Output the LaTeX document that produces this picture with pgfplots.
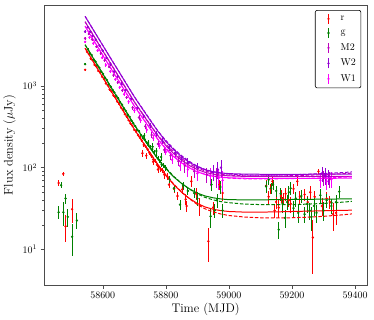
\documentclass[border=0pt]{standalone}
\usepackage{pgfplots}
\pgfplotsset{compat=1.18}
\definecolor{colR}{rgb}{1,0,0}
\definecolor{colG}{rgb}{0,0.5,0}
\definecolor{colM}{rgb}{0.75,0,0.75}
\definecolor{colV}{rgb}{0.58,0,0.83}
\definecolor{colW}{rgb}{1,0,1}
\pgfplotsset{
  pts/.style={only marks, mark=*, mark size=1pt, forget plot,
    error bars/y dir=both, error bars/y explicit, error bars/error mark=none,
    error bars/error bar style={line width=0.8pt}},
  fit/.style={line width=1pt, forget plot},
  fitd/.style={line width=1pt, dashed, dash pattern=on 3.5pt off 1.8pt, forget plot},
}
\begin{document}
\begin{tikzpicture}
\begin{axis}[
  scale only axis,
  width=324pt, height=281pt,
  ymode=log,
  xmin=58414, xmax=59438,
  ymin=3.67, ymax=9730,
  xtick={58600,58800,59000,59200,59400},
  ytick={10,100,1000},
  scaled x ticks=false,
  xticklabel style={/pgf/number format/1000 sep={}},
  xlabel={Time (MJD)},
  ylabel={Flux density ($\mu$Jy)},
  label style={font=\fontsize{12.5}{14}\selectfont},
  xlabel style={yshift=2pt},
  tick align=outside,
  xtick pos=bottom, ytick pos=left,
  major tick length=3.5pt, minor tick length=2pt,
  axis line style={black!70},
  every tick/.style={black!70},
  legend cell align=left,
  legend style={at={(rel axis cs:0.982,0.982)}, anchor=north east,
    draw=black, rounded corners=2pt, line width=0.6pt, font=\normalsize,
    row sep=3.2pt, inner xsep=3pt, inner ysep=3pt},
  legend image code/.code={
    \path[draw=none] (0cm,0cm) -- (0.72cm,0cm);
    \draw[draw=#1, solid, line width=0.8pt] (0.36cm,-0.18cm) -- (0.36cm,0.18cm);
    \fill[fill=#1, draw=none] (0.36cm,0cm) circle (1.3pt);},
]
% ---------- data: r ----------
\addplot[pts, colR, mark options={fill=colR}] table[x index=0, y index=1, y error index=2] {
58460 65 6
58475 84 5
58482 19.2 7
58503 31 10
58544 1570 50
58550 2600 70
58556 2450 65
58562 2150 60
58568 2060 55
58574 1800 50
58580 1720 45
58586 1520 40
58592 1450 40
58598 1290 35
58604 1210 35
58610 1070 30
58616 1020 30
58622 900 25
58628 850 25
58634 760 22
58640 720 20
58646 640 20
58652 600 18
58658 540 16
58664 505 15
58670 450 14
58676 420 13
58682 380 12
58688 345 12
58694 325 11
58700 290 10
58706 275 10
58712 250 10
58718 232 9
58724 215 9
58730 190 9
58736 183 8
58742 168 8
58748 152 8
58754 140 8
58760 126 7
58766 120 7
58772 108 7
58778 100 7
58784 95 7
58790 92 7
58726 150 15
58738 140 12
58760 118 10
58775 95 10
58795 82 10
58805 78 8
58810 62 6
58826 55 6
58837 45 5
58852 54 7
58863 41 6
58866 34 5
58881 68 10
58896 48 8
58908 34 8
58935 12.6 5.5
58950 32.5 6
58970 62 8
58980 49 10
59118 60 10
59126 44 8
59132 55 8
59138 68 9
59145 30 6
59150 38 7
59158 32.4 8
59165 45 8
59172 42 7
59180 48 9
59190 40 7
59196 36 8
59205 55 8
59217 68 9
59225 44 8
59240 47 8
59250 38 7
59258 50 9
59266 14 9
59272 44 8
59284 90 6
59295 34 8
59310 42 8
59320 38 7
59330 27 10
59340 28 8
};
% ---------- data: g ----------
\addplot[pts, colG, mark options={fill=colG}] table[x index=0, y index=1, y error index=2] {
58460 28.5 5
58468 61 5
58475 28.5 9
58482 42 6
58489 25 6
58503 14.3 6
58518 22.6 5
58544 1840 50
58553 2800 70
58559 2500 65
58565 2380 60
58571 2100 55
58577 1980 50
58583 1780 45
58589 1670 40
58595 1490 40
58601 1400 35
58607 1250 35
58613 1180 30
58619 1050 30
58625 980 25
58631 890 25
58637 830 22
58643 750 20
58649 700 20
58655 630 18
58661 590 16
58667 530 15
58673 495 14
58679 445 13
58685 418 12
58691 375 12
58697 350 11
58703 322 10
58709 290 10
58715 280 10
58721 250 9
58727 236 9
58733 222 9
58739 205 8
58745 188 8
58751 180 8
58757 168 8
58763 155 7
58769 140 7
58775 130 7
58781 122 7
58787 110 7
58793 106 7
58731 245 20
58744 200 18
58758 180 18
58770 160 15
58785 135 15
58800 100 8
58812 72 7
58826 56 6
58845 35.4 5
58855 60 7
58870 52 6
58890 49 7
58900 42 8
58942 25.4 7
58945 62 10
58955 30 6
58962 40 8
58973 58 10
58980 30 6
59118 59 10
59126 71 10
59134 56 8
59140 62 9
59150 52 8
59158 17.5 4
59164 48 9
59170 36 8
59178 24.4 6
59185 38 8
59190 50 9
59196 56 10
59205 32 7
59212 42 9
59220 28 7
59230 45 8
59240 27 6
59248 36 8
59256 30 7
59262 25 8
59270 34 8
59278 28 7
59290 46 9
59300 30 8
59310 40 8
59325 34 7
59340 38 8
59350 51 8
};
% ---------- data: M2 ----------
\addplot[pts, colM, mark options={fill=colM}] table[x index=0, y index=1, y error index=2] {
58544 3800 120
58556 4300 140
58566 3700 120
58580 3000 100
58594 2500 90
58606 2050 80
58620 1700 70
58634 1350 60
58648 1100 50
58662 880 40
58676 720 35
58695 540 30
58715 410 25
58735 320 22
58755 250 20
58775 195 18
58795 165 16
58815 140 15
58840 120 15
58860 105 18
58890 90 15
58930 82 18
58960 78 22
59300 75 15
59320 72 16
};
% ---------- data: W2 ----------
\addplot[pts, colV, mark options={fill=colV}] table[x index=0, y index=1, y error index=2] {
58544 4600 150
58552 5200 170
58560 4600 150
58568 4100 140
58578 3700 120
58590 3100 110
58600 2700 100
58612 2200 90
58624 1850 80
58636 1500 70
58648 1300 60
58660 1050 50
58672 880 40
58690 700 35
58710 540 30
58730 430 25
58750 330 22
58770 260 20
58790 210 18
58810 175 15
58830 150 15
58850 128 15
58870 115 18
58900 100 15
58950 88 20
58965 95 22
58975 100 25
59295 85 18
59305 80 18
59315 78 16
};
% ---------- data: W1 ----------
\addplot[pts, colW, mark options={fill=colW}] table[x index=0, y index=1, y error index=2] {
58544 3450 110
58558 3900 130
58570 3300 110
58584 2700 100
58598 2200 90
58610 1800 80
58624 1500 70
58640 1200 55
58654 960 45
58668 790 40
58682 640 35
58700 500 30
58720 380 25
58740 290 22
58760 230 20
58780 185 16
58800 155 12
58820 125 14
58845 105 15
58870 95 18
58900 85 16
58940 80 20
58968 75 22
58980 70 20
59290 70 14
59310 68 15
59325 72 16
};
% ---------- fitted curves (solid) ----------
\addplot[fit, colR] coordinates {
(58544,2880) (58575,1830) (58600,1270) (58625,880) (58650,615) (58675,425)
(58700,295) (58725,210) (58750,150) (58775,108) (58800,80) (58825,62)
(58850,50) (58875,42) (58900,36.5) (58925,33) (58950,31) (58975,29.8)
(59000,29.1) (59050,28.6) (59100,28.6) (59150,28.8) (59200,29.1)
(59250,29.4) (59300,29.7) (59350,30.0) (59390,30.2)};
\addplot[fit, colG] coordinates {
(58544,3176) (58575,2022) (58600,1406) (58625,977) (58650,685) (58675,476)
(58700,333) (58725,240) (58750,174) (58775,127) (58800,97) (58825,77)
(58850,64) (58875,55) (58900,48.8) (58925,45) (58950,42.8) (58975,41.4)
(59000,40.6) (59050,40.4) (59100,40.4) (59150,40.6) (59200,40.8)
(59250,41.0) (59300,41.2) (59350,41.4) (59390,41.5)};
\addplot[fit, colM] coordinates {
(58544,6066) (58575,3861) (58600,2685) (58625,1866) (58650,1310) (58675,911)
(58700,638) (58725,459) (58750,333) (58775,245) (58800,186) (58825,148)
(58850,123) (58875,106) (58900,94.8) (58925,87.5) (58950,83.3) (58975,80.7)
(59000,79.3) (59050,78.2) (59100,78) (59150,77.9) (59200,77.9)
(59250,78) (59300,78.1) (59350,78.2) (59390,78.3)};
\addplot[fit, colV] coordinates {
(58544,7070) (58575,4497) (58600,3125) (58625,2169) (58650,1520) (58675,1054)
(58700,736) (58725,528) (58750,381) (58775,278) (58800,209) (58825,165)
(58850,136) (58875,116) (58900,102.6) (58925,94) (58950,89.1) (58975,86.2)
(59000,84.5) (59050,83.3) (59100,83) (59150,82.8) (59200,82.8)
(59250,83) (59300,83.2) (59350,83.4) (59390,83.6)};
\addplot[fit, colW] coordinates {
(58544,5349) (58575,3407) (58600,2371) (58625,1649) (58650,1159) (58675,808)
(58700,567) (58725,410) (58750,299) (58775,221) (58800,169) (58825,136)
(58850,114) (58875,99) (58900,88.8) (58925,82.3) (58950,78.6) (58975,76.4)
(59000,75.1) (59050,74.2) (59100,74) (59150,74) (59200,74)
(59250,74.1) (59300,74.1) (59350,74.2) (59390,74.2)};
% ---------- fitted curves (dashed) ----------
\addplot[fitd, colR] coordinates {
(58544,2890) (58600,1275) (58700,297) (58775,109) (58800,81.9) (58825,63.1)
(58850,50.3) (58875,41.6) (58900,35.4) (58925,31.3) (58950,28.8) (58975,27.1)
(59000,26.0) (59050,24.9) (59100,24.4) (59150,24.3) (59200,24.4)
(59250,24.8) (59300,25.4) (59350,26.3) (59390,27.2)};
\addplot[fitd, colG] coordinates {
(58544,3180) (58600,1410) (58700,335) (58775,128) (58800,99.2) (58825,78.4)
(58850,64.3) (58875,54.6) (58900,47.8) (58925,43.2) (58950,40.4) (58975,38.4)
(59000,37.3) (59050,35.8) (59100,35.35) (59150,35.2) (59200,35.35)
(59250,35.8) (59300,36.55) (59350,37.6) (59390,38.66)};
\addplot[fitd, colM] coordinates {
(58544,6070) (58600,2690) (58700,640) (58775,246) (58800,194) (58825,155)
(58850,129) (58875,111) (58900,99) (58925,91) (58950,86.1) (58975,83)
(59000,81.1) (59050,79.4) (59100,79) (59150,79.2) (59200,79.8)
(59250,80.8) (59300,82.2) (59350,84) (59390,85.7)};
\addplot[fitd, colV] coordinates {
(58544,7080) (58600,3130) (58700,740) (58775,280) (58800,215) (58825,170)
(58850,140) (58875,119) (58900,104) (58925,95) (58950,89) (58975,85.6)
(59000,83.4) (59050,81.4) (59100,81) (59150,81.2) (59200,81.9)
(59250,83.0) (59300,84.6) (59350,86.6) (59390,88.6)};
\addplot[fitd, colW] coordinates {
(58544,5355) (58600,2375) (58700,570) (58775,222) (58800,172.5) (58825,138.8)
(58850,116) (58875,100.5) (58900,89.8) (58925,82.8) (58950,78.7) (58975,76.2)
(59000,74.6) (59050,73.1) (59100,73) (59150,73.1) (59200,73.5)
(59250,74.1) (59300,75) (59350,76.1) (59390,77.2)};
% ---------- legend ----------
\addlegendimage{colR}\addlegendentry{r}
\addlegendimage{colG}\addlegendentry{g}
\addlegendimage{colM}\addlegendentry{M2}
\addlegendimage{colV}\addlegendentry{W2}
\addlegendimage{colW}\addlegendentry{W1}
\end{axis}
\path ([yshift=5pt]current axis.north east) -- ([xshift=7pt]current axis.east);
\end{tikzpicture}
\end{document}
